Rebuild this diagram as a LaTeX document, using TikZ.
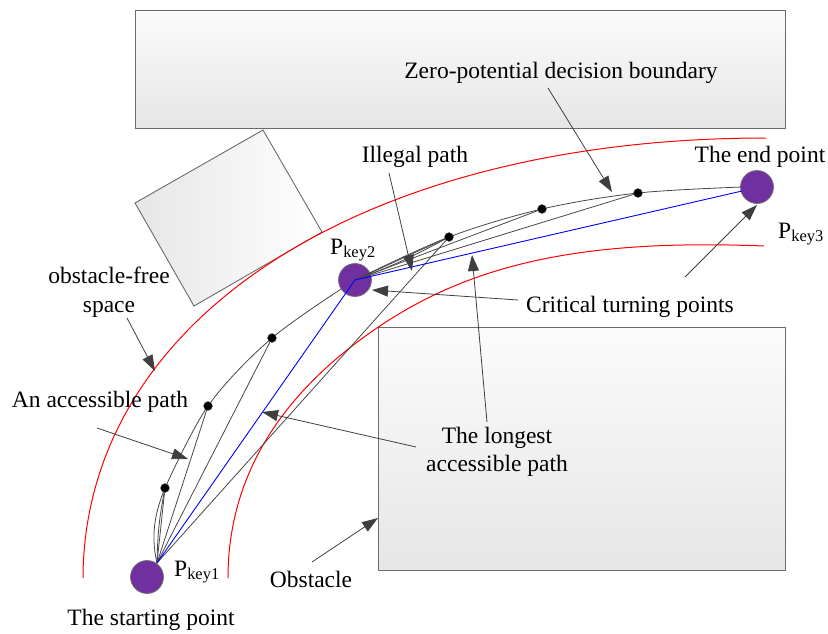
\documentclass[tikz,border=0pt]{standalone}
\usepackage{fontspec}
\setmainfont{Liberation Serif}
\usetikzlibrary{arrows.meta}
\definecolor{keyfill}{HTML}{7030A0}
\definecolor{annot}{HTML}{3F3F3F}
\definecolor{boxedge}{HTML}{6B6B6B}
\definecolor{boxlow}{HTML}{E6E6E6}
\definecolor{boxhigh}{HTML}{FBFBFB}
\definecolor{redline}{HTML}{FF0000}
\definecolor{blueline}{HTML}{0000FF}
\begin{document}
\begin{tikzpicture}[x=1pt,y=-1pt,
  lbl/.style={font=\fontsize{23.5}{28}\selectfont, inner sep=0pt, anchor=base},
  keylbl/.style={font=\fontsize{23.5}{28}\selectfont, inner sep=0pt, anchor=base west},
  obst/.style={draw=boxedge, line width=0.9pt, top color=boxhigh, bottom color=boxlow},
  bound/.style={draw=redline, line width=1pt},
  pathline/.style={draw=black!72, line width=0.8pt},
  bestline/.style={draw=blueline, line width=0.9pt},
  keypt/.style={circle, fill=keyfill, draw=black!55, line width=0.7pt, minimum size=33pt, inner sep=0pt},
  turnpt/.style={circle, fill=black, draw=black!60, line width=0.4pt, minimum size=9pt, inner sep=0pt},
  note/.style={draw=annot, line width=0.8pt, -{Triangle[length=16pt,width=11pt,fill=annot]}}]
\useasboundingbox (0,0) rectangle (828,633);

% obstacles
\draw[obst] (135,10) rectangle (785,128);
\draw[obst] (378,327) rectangle (785,570);
\draw[draw=boxedge, line width=0.9pt, left color=boxlow, right color=white]
  (135,203) -- (263,130) -- (322,232) -- (194,306) -- cycle;

% boundaries of obstacle-free space
\coordinate (ro1) at (83,578);  \coordinate (ro2) at (766,138);
\coordinate (ri1) at (228,578); \coordinate (rim) at (347,350); \coordinate (ri2) at (764,246);
\draw[bound] (ro1) .. controls (84,319) and (362,138) .. (ro2);
\draw[bound] (ri1) .. controls (228,480) and (277,406) .. (rim)
                   .. controls (449,269) and (564,238) .. (ri2);

% key coordinates
\coordinate (k1) at (147,577);
\coordinate (k2) at (355,280);
\coordinate (k3) at (757,187);
\coordinate (s1) at (157,563);
\coordinate (e3) at (742,187);
\coordinate (b3) at (742,191);
\coordinate (d1) at (165,488);
\coordinate (d2) at (208,406);
\coordinate (d3) at (272,338);
\coordinate (d4) at (449,237);
\coordinate (d5) at (542,209);
\coordinate (d6) at (638,193);

% main boundary path, first part (under the circles)
\draw[pathline] (s1) .. controls +(-7,-30) and +(-9,22) .. (d1);
\draw[pathline] plot[smooth, tension=0.55] coordinates {(d1) (d2) (d3) (k2)};

% key points
\node[keypt] (P1) at (k1) {};
\node[keypt] (P2) at (k2) {};
\node[keypt] (P3) at (k3) {};

% paths from Pkey1
\draw[pathline] (s1) -- (d1);
\draw[pathline] (s1) to[bend left=5] (d1);
\draw[pathline] (s1) -- (d2);
\draw[pathline] (s1) -- (d3);
\draw[pathline] (s1) -- (d4);
\draw[bestline] (s1) -- (k2);

% paths from Pkey2
\draw[pathline] plot[smooth, tension=0.55] coordinates {(k2) (d4) (d5) (d6) (e3)};
\draw[pathline] (k2) -- (d4);
\draw[pathline] (k2) to[bend right=4] (d4);
\draw[pathline] (k2) -- (d5);
\draw[pathline] (k2) -- (d6);
\draw[bestline] (k2) -- (b3);

% turning points
\node[turnpt] (t1) at (d1) {};
\node[turnpt] (t2) at (d2) {};
\node[turnpt] (t3) at (d3) {};
\node[turnpt] (t4) at (d4) {};
\node[turnpt] (t5) at (d5) {};
\node[turnpt] (t6) at (d6) {};

% labels
\node[lbl] (zlab) at (561,78) {Zero-potential decision boundary};
\node[lbl] (ilab) at (415,162) {Illegal path};
\node[lbl] (clab) at (630,312) {Critical turning points};
\node[lbl] (llab1) at (497,443) {The longest};
\node[lbl] (llab2) at (497,471) {accessible path};
\node[lbl] (olab) at (311,587) {Obstacle};
\node[lbl] (flab1) at (109,283) {obstacle-free};
\node[lbl] (flab2) at (109,312) {space};
\node[lbl] (alab) at (100,407) {An accessible path};
\node[lbl] (slab) at (151,625) {The starting point};
\node[lbl] (elab) at (760,162) {The end point};
\node[keylbl] (p1lab) at (174,576) {P\textsubscript{key1}};
\node[keylbl] (p2lab) at (330,254) {P\textsubscript{key2}};
\node[keylbl] (p3lab) at (778,238) {P\textsubscript{key3}};

% annotation arrows
\coordinate (zs) at (548,88);   \coordinate (zt) at (612,192);
\coordinate (is) at (389,173);  \coordinate (it) at (412,271);
\coordinate (cs1) at (518,300); \coordinate (ct1) at (372,290);
\coordinate (cs2) at (685,277); \coordinate (ct2) at (757,205);
\coordinate (ls1) at (416,447); \coordinate (lt1) at (262,412);
\coordinate (ls2) at (487,422); \coordinate (lt2) at (472,255);
\coordinate (os) at (312,562);  \coordinate (ot) at (378,518);
\coordinate (fs) at (127,318);  \coordinate (ft) at (155,371);
\coordinate (as1) at (97,428);  \coordinate (at1) at (188,459);
\draw[note] (zs) -- (zt);
\draw[note] (is) -- (it);
\draw[note] (cs1) -- (ct1);
\draw[note] (cs2) -- (ct2);
\draw[note] (ls1) -- (lt1);
\draw[note] (ls2) -- (lt2);
\draw[note] (os) -- (ot);
\draw[note] (fs) -- (ft);
\draw[note] (as1) -- (at1);
\end{tikzpicture}
\end{document}
